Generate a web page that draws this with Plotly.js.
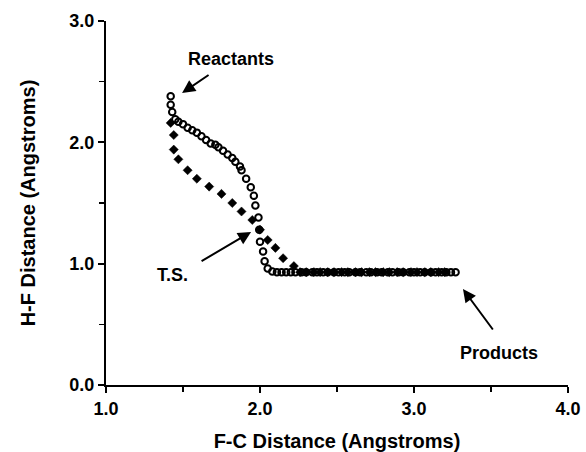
<!DOCTYPE html>
<html>
<head>
<meta charset="utf-8">
<script src="https://cdn.plot.ly/plotly-3.0.1.min.js"></script>
<style>html,body{margin:0;padding:0;background:#fff;}#chart{width:586px;height:452px;}</style>
</head>
<body>
<div id="chart"></div>
<script>
// Open-circle path (H-F vs F-C distance)
const openX = [1.42, 1.42, 1.43, 1.45, 1.47, 1.50, 1.53, 1.56, 1.59, 1.62, 1.65, 1.68, 1.71, 1.73, 1.76, 1.79, 1.82, 1.84, 1.87, 1.88, 1.91, 1.94, 1.96, 1.97, 1.99, 1.995, 2.00, 2.02, 2.03, 2.05,
  2.08, 2.11, 2.14, 2.17, 2.20, 2.23, 2.27, 2.30, 2.34, 2.37, 2.41, 2.44, 2.48, 2.51, 2.55, 2.58, 2.62, 2.65, 2.69, 2.72, 2.76, 2.79, 2.83, 2.86, 2.90, 2.93, 2.97, 3.00, 3.04, 3.07, 3.11, 3.14, 3.18, 3.21, 3.24, 3.27];
const openY = [2.38, 2.31, 2.25, 2.19, 2.17, 2.15, 2.12, 2.10, 2.08, 2.05, 2.02, 1.99, 1.98, 1.96, 1.93, 1.90, 1.87, 1.84, 1.80, 1.77, 1.70, 1.63, 1.56, 1.48, 1.38, 1.28, 1.18, 1.10, 1.02, 0.96,
  0.935, 0.93, 0.93, 0.93, 0.93, 0.93, 0.93, 0.93, 0.93, 0.93, 0.93, 0.93, 0.93, 0.93, 0.93, 0.93, 0.93, 0.93, 0.93, 0.93, 0.93, 0.93, 0.93, 0.93, 0.93, 0.93, 0.93, 0.93, 0.93, 0.93, 0.93, 0.93, 0.93, 0.93, 0.93, 0.93];

// Filled path
const filledX = [1.42, 1.44, 1.44, 1.47, 1.53, 1.59, 1.67, 1.75, 1.82, 1.88, 1.95, 2.00, 2.05, 2.10, 2.15, 2.22,
  2.26, 2.30, 2.35, 2.39, 2.44, 2.48, 2.53, 2.57, 2.62, 2.66, 2.71, 2.75, 2.80, 2.84, 2.89, 2.93, 2.98, 3.02, 3.07, 3.11, 3.16, 3.20];
const filledY = [2.16, 2.06, 1.94, 1.86, 1.77, 1.70, 1.635, 1.575, 1.50, 1.43, 1.36, 1.28, 1.195, 1.13, 1.045, 0.98,
  0.93, 0.93, 0.93, 0.93, 0.93, 0.93, 0.93, 0.93, 0.93, 0.93, 0.93, 0.93, 0.93, 0.93, 0.93, 0.93, 0.93, 0.93, 0.93, 0.93, 0.93, 0.93];

const xTicks = [1, 2, 3, 4];
const xTickText = ['1.0', '2.0', '3.0', '4.0'];
const yTicks = [0, 1, 2, 3];
const yTickText = ['0.0', '1.0', '2.0', '3.0'];

const labelNames = ['Reactants', 'T.S.', 'Products'];
const labelX = [1.81, 1.43, 3.55];
const labelY = [2.69, 0.91, 0.26];
const arrowHeadX = [1.494, 1.942, 3.318];
const arrowHeadY = [2.407, 1.261, 0.791];
const arrowAX = [28, -51, 31];
const arrowAY = [-19, 30, 42];

const FONT = 'Liberation Sans, Arial, Helvetica, sans-serif';

const traces = [
  {
    x: filledX, y: filledY, type: 'scatter', mode: 'markers', name: 'filled',
    marker: {symbol: 'diamond', size: 7, color: '#000', line: {width: 0.5, color: '#000'}},
    hoverinfo: 'x+y'
  },
  {
    x: openX, y: openY, type: 'scatter', mode: 'markers', name: 'open',
    marker: {symbol: 'circle-open', size: 6.5, color: '#000', line: {width: 2, color: '#000'}},
    hoverinfo: 'x+y'
  }
];

const annotations = [];
for (let i = 0; i < labelNames.length; i++) {
  annotations.push({
    x: labelX[i], y: labelY[i], xref: 'x', yref: 'y', text: labelNames[i], showarrow: false,
    font: {family: FONT, size: 18, color: '#000', weight: 'bold'}
  });
  annotations.push({
    x: arrowHeadX[i], y: arrowHeadY[i], xref: 'x', yref: 'y', text: '', showarrow: true,
    ax: arrowAX[i], ay: arrowAY[i], axref: 'pixel', ayref: 'pixel',
    arrowhead: 2, arrowsize: 1.3, arrowwidth: 2, arrowcolor: '#000', standoff: 0
  });
}

const layout = {
  width: 586, height: 452,
  margin: {l: 106, r: 18, t: 21, b: 67, pad: 0},
  paper_bgcolor: '#fff', plot_bgcolor: '#fff',
  showlegend: false,
  font: {family: FONT, color: '#000', size: 18, weight: 'bold'},
  xaxis: {
    range: [1, 4], tickvals: xTicks, ticktext: xTickText,
    showgrid: false, zeroline: false,
    showline: true, linecolor: '#000', linewidth: 2,
    ticks: 'outside', ticklen: 6, tickwidth: 2, tickcolor: '#000',
    minor: {dtick: 0.5, ticks: 'outside', ticklen: 5, tickwidth: 1.5, tickcolor: '#000', showgrid: false},
    tickfont: {family: FONT, size: 18, weight: 'bold'},
    title: {text: 'F-C Distance (Angstroms)', font: {family: FONT, size: 20, weight: 'bold'}, standoff: 16}
  },
  yaxis: {
    range: [0, 3], tickvals: yTicks, ticktext: yTickText,
    showgrid: false, zeroline: false,
    showline: true, linecolor: '#000', linewidth: 2,
    ticks: 'outside', ticklen: 6, tickwidth: 2, tickcolor: '#000',
    minor: {dtick: 0.5, ticks: 'outside', ticklen: 5, tickwidth: 1.5, tickcolor: '#000', showgrid: false},
    tickfont: {family: FONT, size: 18, weight: 'bold'},
    title: {text: 'H-F Distance (Angstroms)', font: {family: FONT, size: 20, weight: 'bold'}, standoff: 28}
  },
  annotations: annotations
};

Plotly.newPlot('chart', traces, layout, {displayModeBar: false, staticPlot: true});
</script>
</body>
</html>
